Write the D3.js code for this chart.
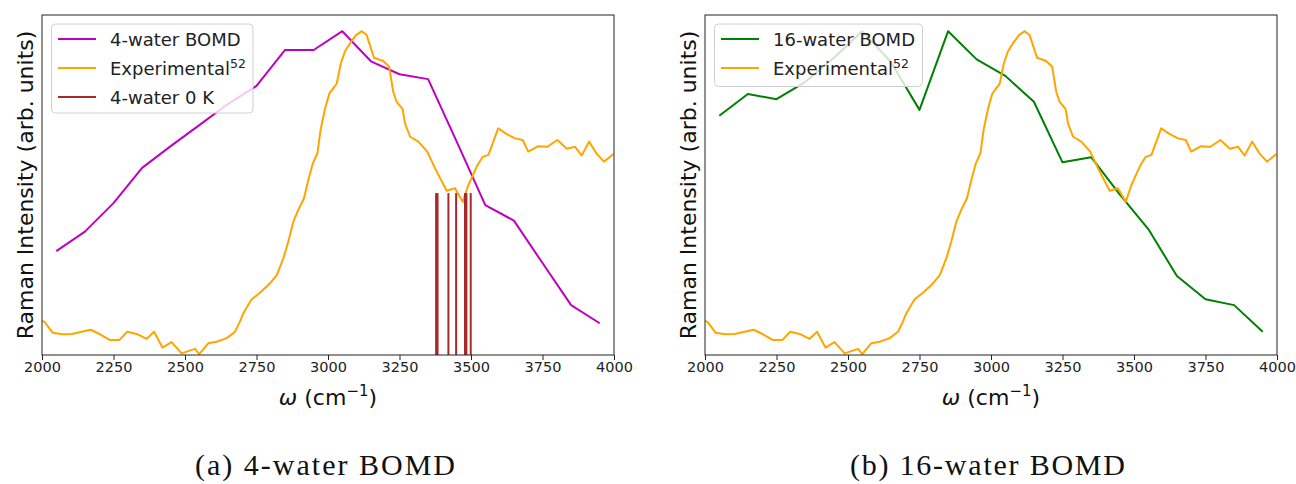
<!DOCTYPE html>
<html>
<head>
<meta charset="utf-8">
<script src="https://cdn.jsdelivr.net/npm/d3@7"></script>
<style>
  body { margin: 0; background: #fff; }
  text { font-family: "DejaVu Sans", sans-serif; }
</style>
</head>
<body>
<div id="chart"></div>
<script>
const width = 1296, height = 484;

// Experimental spectrum (same in both panels), normalised to peak = 1
const omegaExp = [2000, 2008, 2037, 2072, 2104, 2139, 2170, 2203, 2238, 2270, 2298, 2331, 2366, 2392,
    2421, 2453, 2488, 2535, 2550, 2581, 2611, 2646, 2675, 2692, 2704, 2733, 2762, 2797, 2821, 2844,
    2861, 2879, 2896, 2916, 2931, 2947, 2963, 2974, 2990, 3005, 3030, 3045, 3059, 3077, 3098, 3118,
    3135, 3161, 3193, 3214, 3228, 3240, 3261, 3269, 3287, 3316, 3347, 3374, 3415, 3444, 3471, 3491,
    3520, 3541, 3561, 3595, 3625, 3654, 3681, 3700, 3735, 3767, 3802, 3835, 3864, 3887, 3913, 3940,
    3965, 3998];
const intExp = [0.105, 0.103, 0.069, 0.064, 0.065, 0.072, 0.078, 0.064, 0.046, 0.046, 0.072, 0.065, 0.050, 0.072,
    0.023, 0.040, 0.005, 0.019, 0.003, 0.036, 0.041, 0.052, 0.072, 0.103, 0.129, 0.172, 0.192, 0.221, 0.247, 0.299,
    0.350, 0.412, 0.448, 0.484, 0.540, 0.592, 0.623, 0.695, 0.762, 0.808, 0.837, 0.901, 0.937, 0.963, 0.988, 1.000,
    0.988, 0.918, 0.908, 0.890, 0.813, 0.782, 0.759, 0.716, 0.674, 0.659, 0.628, 0.577, 0.507, 0.515, 0.473, 0.525,
    0.582, 0.612, 0.618, 0.700, 0.682, 0.669, 0.664, 0.628, 0.645, 0.643, 0.664, 0.637, 0.643, 0.616, 0.659, 0.621,
    0.597, 0.621];

// BOMD spectra on a 100 cm^-1 grid
const omegaBomd = [2050, 2150, 2250, 2350, 2450, 2550, 2650, 2750, 2850, 2950,
    3050, 3150, 3250, 3350, 3450, 3550, 3650, 3750, 3850, 3950];
const int4water = [0.321, 0.381, 0.469, 0.578, 0.645, 0.710, 0.775, 0.831, 0.942, 0.942,
    1.000, 0.907, 0.867, 0.852, 0.659, 0.463, 0.415, 0.284, 0.154, 0.098];
const int16water = [0.739, 0.806, 0.790, 0.843, 0.917, 1.000, 0.905, 0.757, 1.000, 0.913,
    0.862, 0.782, 0.595, 0.611, 0.496, 0.389, 0.244, 0.172, 0.154, 0.072];

// 4-water 0 K harmonic frequencies (stick spectrum)
const freq0K = [3378, 3383, 3421, 3448, 3479, 3484, 3499];
const int0K = [0.5, 0.5, 0.5, 0.5, 0.5, 0.5, 0.5];

const xTicks = [2000, 2250, 2500, 2750, 3000, 3250, 3500, 3750, 4000];

const svg = d3.select('#chart')
    .append('svg')
    .attr('width', width)
    .attr('height', height);

const plotTop = 15, plotBottom = 355;

const panels = [
    {
        left: 42, right: 614, caption: '(a) 4-water BOMD', capX: 325, capW: 260,
        lines: [
            { name: '4-water BOMD', x: omegaBomd, y: int4water, color: '#bf00bf' },
            { name: 'Experimental', sup: '52', x: omegaExp, y: intExp, color: '#ffa500' }
        ],
        sticks: { name: '4-water 0 K', x: freq0K, y: int0K, color: '#a52a2a' },
        legend: { x: 51.5, y: 24, w: 201.5, h: 89 }
    },
    {
        left: 705, right: 1277, caption: '(b) 16-water BOMD', capX: 987.5, capW: 275,
        lines: [
            { name: '16-water BOMD', x: omegaBomd, y: int16water, color: '#008000' },
            { name: 'Experimental', sup: '52', x: omegaExp, y: intExp, color: '#ffa500' }
        ],
        sticks: null,
        legend: { x: 714.5, y: 24, w: 208, h: 62.5 }
    }
];

panels.forEach(p => {
    const x = d3.scaleLinear().domain([2000, 4000]).range([p.left, p.right]);
    const y = d3.scaleLinear().domain([0, 1.05]).range([plotBottom, plotTop]);
    const g = svg.append('g');

    const clipId = 'clip' + p.left;
    g.append('clipPath').attr('id', clipId)
      .append('rect')
        .attr('x', p.left).attr('y', plotTop)
        .attr('width', p.right - p.left).attr('height', plotBottom - plotTop);

    const plot = g.append('g').attr('clip-path', `url(#${clipId})`);
    const line = d3.line().x(d => x(d[0])).y(d => y(d[1]));

    p.lines.forEach(s => {
        plot.append('path')
            .datum(s.x.map((v, i) => [v, s.y[i]]))
            .attr('d', line)
            .attr('fill', 'none')
            .attr('stroke', s.color)
            .attr('stroke-width', 2)
            .attr('stroke-linejoin', 'round');
    });

    if (p.sticks) {
        plot.selectAll('line.stick')
            .data(p.sticks.x.map((v, i) => [v, p.sticks.y[i]]))
            .enter()
            .append('line')
              .attr('class', 'stick')
              .attr('x1', d => x(d[0])).attr('x2', d => x(d[0]))
              .attr('y1', y(0)).attr('y2', d => y(d[1]))
              .attr('stroke', p.sticks.color)
              .attr('stroke-width', 2);
    }

    // frame
    g.append('rect')
        .attr('x', p.left).attr('y', plotTop)
        .attr('width', p.right - p.left).attr('height', plotBottom - plotTop)
        .attr('fill', 'none')
        .attr('stroke', '#222')
        .attr('stroke-width', 1);

    // x axis
    const axis = g.append('g')
        .attr('transform', `translate(0,${plotBottom})`)
        .call(d3.axisBottom(x).tickValues(xTicks).tickSize(5).tickPadding(2).tickFormat(d3.format('d')));
    axis.select('.domain').remove();
    axis.selectAll('line').attr('stroke', '#222');
    axis.selectAll('text')
        .attr('font-size', 14.5)
        .attr('fill', '#222')
        .style('font-family', '"DejaVu Sans", sans-serif');

    // x label
    const cx = (p.left + p.right) / 2;
    const xl = g.append('text')
        .attr('x', cx).attr('y', 405)
        .attr('text-anchor', 'middle')
        .attr('font-size', 22)
        .attr('fill', '#111');
    xl.append('tspan').attr('font-style', 'italic').text('ω');
    xl.append('tspan').text(' (cm');
    xl.append('tspan').attr('font-size', 15).attr('dy', -9).text('−1');
    xl.append('tspan').attr('dy', 9).text(')');

    // y label
    g.append('text')
        .attr('transform', `translate(${p.left - 9},${(plotTop + plotBottom) / 2}) rotate(-90)`)
        .attr('text-anchor', 'middle')
        .attr('font-size', 22)
        .attr('fill', '#111')
        .text('Raman Intensity (arb. units)');

    // legend
    const lg = g.append('g');
    lg.append('rect')
        .attr('x', p.legend.x).attr('y', p.legend.y)
        .attr('width', p.legend.w).attr('height', p.legend.h)
        .attr('rx', 4)
        .attr('fill', 'white').attr('fill-opacity', 0.8)
        .attr('stroke', '#d0d0d0').attr('stroke-width', 1);

    const items = p.lines.map(s => ({ name: s.name, sup: s.sup, color: s.color }));
    if (p.sticks) items.push({ name: p.sticks.name, color: p.sticks.color });

    items.forEach((it, i) => {
        const yy = 39 + i * 29;
        const hx = p.legend.x + 6.5;
        lg.append('line')
            .attr('x1', hx).attr('x2', hx + 38)
            .attr('y1', yy).attr('y2', yy)
            .attr('stroke', it.color).attr('stroke-width', 2);
        const t = lg.append('text')
            .attr('x', hx + 52).attr('y', yy + 6.5)
            .attr('font-size', 18)
            .attr('fill', '#222')
            .text(it.name);
        if (it.sup) {
            t.append('tspan').attr('font-size', 12.5).attr('dy', -7).text(it.sup);
        }
    });

    // caption
    g.append('text')
        .attr('x', p.capX).attr('y', 475)
        .attr('text-anchor', 'middle')
        .attr('font-size', 30)
        .attr('textLength', p.capW)
        .attr('lengthAdjust', 'spacing')
        .attr('fill', '#111')
        .style('font-family', '"Liberation Serif", "DejaVu Serif", serif')
        .text(p.caption);
});
</script>
</body>
</html>
